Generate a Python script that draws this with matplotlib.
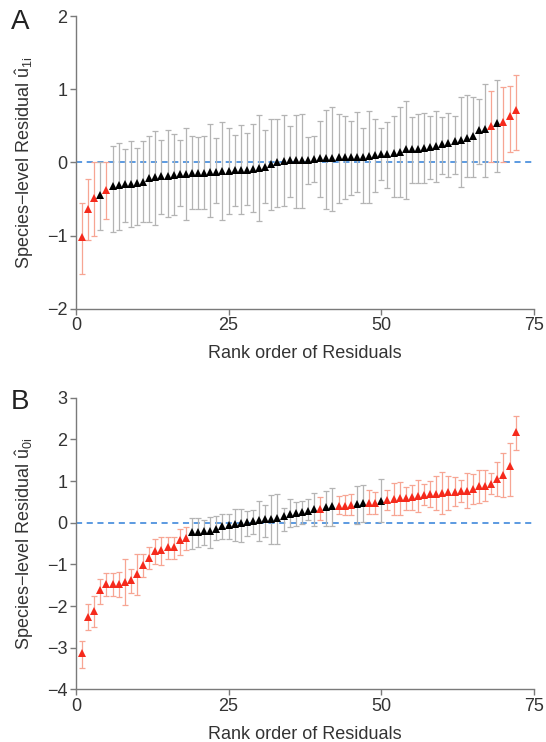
import numpy as np
import matplotlib.pyplot as plt

plt.rcParams['font.family'] = ['Liberation Sans', 'DejaVu Sans']
plt.rcParams['mathtext.fontset'] = 'custom'
plt.rcParams['mathtext.rm'] = 'Liberation Sans'
plt.rcParams['mathtext.it'] = 'Liberation Sans:italic'

rank = np.arange(1, 73)

# panel A: slope residuals u1i
a_val = [-1.02, -0.63, -0.48, -0.45, -0.37, -0.32, -0.31, -0.30, -0.29, -0.28, -0.27, -0.21,
         -0.20, -0.18, -0.18, -0.17, -0.16, -0.16, -0.15, -0.14, -0.14, -0.13, -0.13, -0.12,
         -0.11, -0.10, -0.10, -0.10, -0.09, -0.08, -0.06, -0.02, 0.00, 0.02, 0.03, 0.03,
         0.04, 0.04, 0.05, 0.06, 0.06, 0.06, 0.07, 0.07, 0.08, 0.08, 0.08, 0.09, 0.10, 0.11,
         0.12, 0.13, 0.14, 0.18, 0.18, 0.19, 0.20, 0.21, 0.22, 0.25, 0.26, 0.30,
         0.31, 0.34, 0.36, 0.44, 0.46, 0.50, 0.54, 0.56, 0.64, 0.72]
a_hi = [-0.55, -0.22, 0.01, 0.00, 0.00, 0.23, 0.26, 0.18, 0.29, 0.20, 0.29, 0.36,
        0.43, 0.31, 0.44, 0.39, 0.31, 0.47, 0.36, 0.35,
        0.36, 0.52, 0.34, 0.56, 0.47, 0.37, 0.51, 0.40, 0.53, 0.65, 0.44, 0.59, 0.59, 0.65,
        0.50, 0.65, 0.66, 0.35, 0.36, 0.57, 0.72,
        0.76, 0.66, 0.63, 0.57, 0.69, 0.47, 0.71, 0.60, 0.47,
        0.55, 0.63, 0.76, 0.84, 0.62, 0.66, 0.68, 0.63, 0.70, 0.62, 0.68, 0.64,
        0.90, 0.92, 0.90, 0.87, 1.08, 0.98, 1.13, 1.03, 1.05, 1.20]
a_lo = [-1.53, -1.06, -1.00, -0.92, -0.77, -0.95, -0.93, -0.82, -0.88, -0.85, -0.82, -0.81,
        -0.86, -0.70, -0.74, -0.72, -0.60, -0.78, -0.64, -0.64,
        -0.63, -0.74, -0.56, -0.78, -0.70, -0.59, -0.71, -0.58, -0.68, -0.80, -0.55, -0.65,
        -0.61, -0.59, -0.47, -0.62, -0.62, -0.30, -0.27, -0.47, -0.63,
        -0.67, -0.56, -0.50, -0.44, -0.41, -0.56, -0.56, -0.40, -0.24,
        -0.35, -0.47, -0.47, -0.50, -0.28, -0.28, -0.28, -0.22, -0.26, -0.16, -0.20, -0.16,
        -0.33, -0.20, -0.20, -0.02, -0.20, 0.00, -0.13, 0.00, 0.15, 0.17]
a_red = [1, 2, 3, 5, 68, 70, 71, 72]

# panel B: intercept residuals u0i
b_val = [-3.14, -2.26, -2.12, -1.62, -1.48, -1.48, -1.48, -1.42, -1.38, -1.22, -1.02, -0.84,
         -0.68, -0.65, -0.58, -0.58, -0.41, -0.36,
         -0.22, -0.22, -0.20, -0.19, -0.14, -0.08,
         -0.06, -0.03, -0.01, 0.01, 0.04, 0.07, 0.09, 0.10, 0.12, 0.15,
         0.20, 0.23, 0.25, 0.29, 0.33, 0.34, 0.37, 0.39, 0.41, 0.41,
         0.42, 0.45, 0.47, 0.47, 0.48, 0.53, 0.55,
         0.57, 0.59, 0.59, 0.61, 0.65, 0.67, 0.68, 0.69, 0.71, 0.73, 0.73,
         0.76, 0.77, 0.80, 0.87, 0.89, 0.93, 1.05, 1.15, 1.35, 2.17]
b_hi = [-2.84, -1.94, -1.77, -1.36, -1.21, -1.21, -1.19, -0.86, -1.10, -0.74, -0.74, -0.58,
        -0.38, -0.34, -0.34, -0.34, -0.15, -0.11,
        0.12, 0.12, 0.06, 0.14, 0.15, 0.21,
        0.22, 0.34, 0.34, 0.28, 0.30, 0.51, 0.42, 0.66, 0.68, 0.36, 0.58, 0.50, 0.52, 0.58,
        0.71, 0.62, 0.77, 0.83, 0.64, 0.66, 0.70, 0.87, 0.91, 0.78, 0.74, 1.05, 0.78,
        0.95, 0.97, 0.86, 0.90, 1.03, 0.94, 0.99, 1.11, 1.21, 1.13, 1.10,
        1.03, 1.19, 1.18, 1.27, 1.27, 1.19, 1.46, 1.67, 1.91, 2.55]
b_lo = [-3.50, -2.58, -2.50, -1.94, -1.76, -1.76, -1.78, -1.98, -1.69, -1.74, -1.30, -1.10,
        -0.98, -1.02, -0.86, -0.86, -0.78, -0.66,
        -0.62, -0.58, -0.54, -0.60, -0.42, -0.38,
        -0.39, -0.45, -0.47, -0.31, -0.27, -0.43, -0.35, -0.50, -0.50, -0.19, -0.11, -0.07,
        -0.03, 0.06, -0.09, 0.06, -0.07, -0.07, 0.22, 0.18, 0.18, -0.03, 0.02, 0.22, 0.22,
        0.02, 0.30,
        0.18, 0.18, 0.31, 0.30, 0.26, 0.42, 0.38, 0.30, 0.22, 0.31, 0.39,
        0.50, 0.36, 0.44, 0.47, 0.52, 0.70, 0.63, 0.62, 0.65, 1.75]
b_red = list(range(1, 19)) + [40, 43, 44, 45, 48, 49] + list(range(51, 73))

RED = '#f52a1c'
RED_ERR = '#f7a593'
GRAY_ERR = '#b4b4b4'


def panel(ax, val, lo, hi, red, ylim, sub, letter, letter_y):
    val = np.array(val)
    lo = np.array(lo)
    hi = np.array(hi)
    is_red = np.isin(rank, red)
    err = np.vstack([val - lo, hi - val])

    ax.axhline(0, color='#2f7fd8', ls=(0, (4, 3)), lw=1.1, zorder=1)
    for mask, ecol, mcol in [(~is_red, GRAY_ERR, 'black'), (is_red, RED_ERR, RED)]:
        ax.errorbar(rank[mask], val[mask], yerr=err[:, mask], fmt='none',
                    ecolor=ecol, elinewidth=0.9, capsize=2.2, capthick=0.9, zorder=2)
    for mask, mcol in [(~is_red, 'black'), (is_red, RED)]:
        ax.plot(rank[mask], val[mask], '^', color=mcol, ms=5.5, mew=0, zorder=3)

    ax.set_xlim(0, 75)
    ax.set_ylim(*ylim)
    ax.set_xticks([0, 25, 50, 75])
    ax.set_yticks(np.arange(ylim[0], ylim[1] + 1))
    for s in ['top', 'right']:
        ax.spines[s].set_visible(False)
    for s in ['left', 'bottom']:
        ax.spines[s].set_color('#7a7a7a')
        ax.spines[s].set_linewidth(1.0)
    ax.tick_params(direction='out', length=4, width=1.0, color='#7a7a7a',
                   labelsize=13, labelcolor='#333333', pad=2)
    ax.set_xlabel('Rank order of Residuals', fontsize=13, color='#333333', labelpad=8)
    ax.set_ylabel('Species$-$level Residual $\\mathrm{\\hat{u}}_{\\mathrm{' + sub + 'i}}$',
                  fontsize=13, color='#333333')
    ax.yaxis.set_label_coords(-0.088, 0.5)
    ax.figure.text(0.02, letter_y, letter, fontsize=20, color='#222222', va='top')


fig = plt.figure(figsize=(5.46, 7.42), dpi=100)
ax1 = fig.add_axes([0.139, 0.584, 0.839, 0.394])
ax2 = fig.add_axes([0.139, 0.071, 0.839, 0.393])

panel(ax1, a_val, a_lo, a_hi, a_red, (-2, 2), '1', 'A', 0.988)
panel(ax2, b_val, b_lo, b_hi, b_red, (-4, 3), '0', 'B', 0.476)

fig.savefig('out.png', dpi=100)
